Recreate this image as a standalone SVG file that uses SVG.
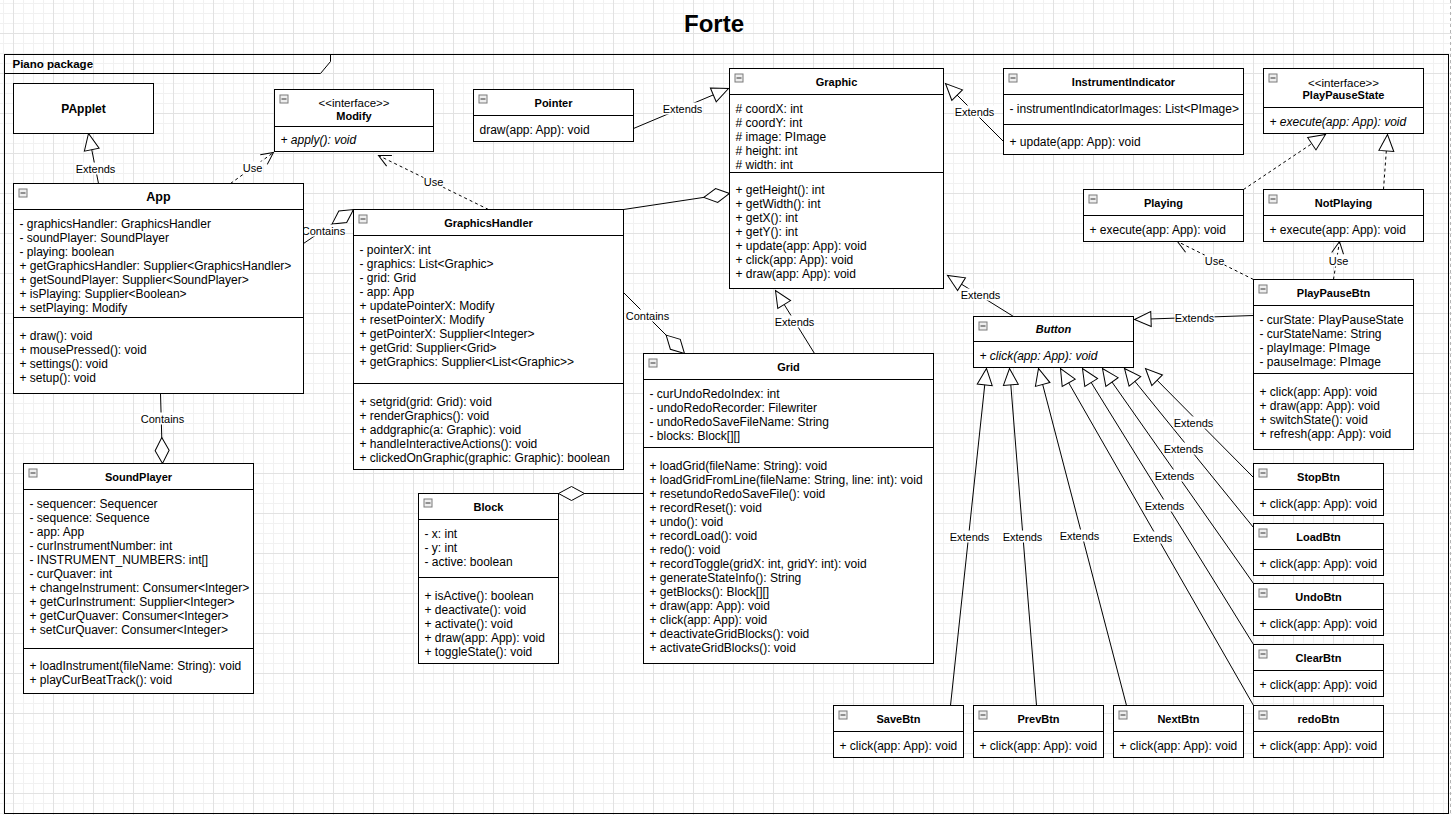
<svg xmlns="http://www.w3.org/2000/svg" xmlns:xlink="http://www.w3.org/1999/xlink" width="1452" height="815" viewBox="0 0 1452 815">
<style>
.bg{fill:url(#grid)}
.box{fill:#fff;stroke:#000;stroke-width:1}
.dv{stroke:#000;stroke-width:1}
text{font-family:"Liberation Sans",Arial,Helvetica,sans-serif;font-size:12px;fill:#000}
.h{font-weight:bold;font-size:11px;text-anchor:middle}
.hb{font-weight:bold;font-size:12px;text-anchor:middle}
.st{font-size:11.5px;text-anchor:middle}
.i{font-style:italic}
.ln{fill:none;stroke:#000;stroke-width:1}
.dash{stroke-dasharray:3 3}
.ext{marker-end:url(#tri)}
.use{marker-end:url(#open)}
.agg{marker-end:url(#dia)}
.lbl rect{fill:#fff}
.lbl text{font-size:11px;text-anchor:middle}
</style>
<defs>
<pattern id="grid" x="13" y="33" width="40" height="40" patternUnits="userSpaceOnUse">
<path d="M10.5,0V40M20.5,0V40M30.5,0V40M0,10.5H40M0,20.5H40M0,30.5H40" fill="none" stroke="#f1f1f1" stroke-width="1"/>
<path d="M0.5,0V40M0,0.5H40" fill="none" stroke="#e2e2e2" stroke-width="1"/>
</pattern>
<marker id="tri" markerUnits="userSpaceOnUse" markerWidth="20" markerHeight="18" refX="17" refY="8" orient="auto" overflow="visible">
<path d="M0.5,0.5L17,8L0.5,15.5Z" fill="#fff" stroke="#000" stroke-width="1"/>
</marker>
<marker id="open" markerUnits="userSpaceOnUse" markerWidth="14" markerHeight="14" refX="12" refY="6" orient="auto" overflow="visible">
<path d="M0,0L12,6L0,12" fill="none" stroke="#000" stroke-width="1"/>
</marker>
<marker id="dia" markerUnits="userSpaceOnUse" markerWidth="28" markerHeight="18" refX="26" refY="7" orient="auto" overflow="visible">
<path d="M0,7L13,0L26,7L13,14Z" fill="#fff" stroke="#000" stroke-width="1"/>
</marker>
<symbol id="mn" viewBox="0 0 9 9" width="9" height="9" overflow="visible">
<rect x="0.5" y="0.5" width="8" height="8" fill="#eeeeee" stroke="#7a7a7a" stroke-width="1"/>
<path d="M2,4.5H7" stroke="#333" stroke-width="1"/>
</symbol>
</defs>
<rect class="bg" x="0" y="0" width="1452" height="815"/>
<path d="M1450.5,0V815" stroke="#b5b5b5" stroke-width="1" stroke-dasharray="3 3"/>
<text x="714" y="32" style="font-size:24px;font-weight:bold;text-anchor:middle">Forte</text>

<g transform="translate(0.5,0.5)">
<g id="package">
<rect x="4" y="54" width="1444" height="759" fill="none" stroke="#000" stroke-width="1"/>
<path d="M4,73H320L330,61V54" fill="none" stroke="#000" stroke-width="1"/>
<text x="12" y="67" style="font-weight:bold;font-size:11.5px">Piano package</text>
</g>

<g id="connectors">
<path class="ln ext" d="M98,183L88,133"/>
<g class="lbl"><rect x="75" y="162" width="40" height="12"/><text x="95" y="172">Extends</text></g>
<path class="ln dash use" d="M230,183L273,152"/>
<g class="lbl"><rect x="242" y="161" width="20" height="12"/><text x="252" y="171">Use</text></g>
<path class="ln agg" d="M303,243L353,209"/>
<g class="lbl"><rect x="301" y="224" width="44" height="12"/><text x="323" y="234">Contains</text></g>
<path class="ln agg" d="M160,393L162,463"/>
<g class="lbl"><rect x="140" y="412" width="44" height="12"/><text x="162" y="422">Contains</text></g>
<path class="ln dash use" d="M488,209L378,155"/>
<g class="lbl"><rect x="423" y="175" width="20" height="12"/><text x="433" y="185">Use</text></g>
<path class="ln agg" d="M623,209L729,193"/>
<path class="ln agg" d="M623,292L684,353"/>
<g class="lbl"><rect x="625" y="309" width="44" height="12"/><text x="647" y="319">Contains</text></g>
<path class="ln ext" d="M633,128L728,88"/>
<g class="lbl"><rect x="662" y="102" width="40" height="12"/><text x="682" y="112">Extends</text></g>
<path class="ln ext" d="M814,353L775,290"/>
<g class="lbl"><rect x="774" y="315" width="40" height="12"/><text x="794" y="325">Extends</text></g>
<path class="ln ext" d="M1003,141L945,83"/>
<g class="lbl"><rect x="954" y="105" width="40" height="12"/><text x="974" y="115">Extends</text></g>
<path class="ln ext" d="M1013,316L947,275"/>
<g class="lbl"><rect x="960" y="288" width="40" height="12"/><text x="980" y="298">Extends</text></g>
<path class="ln agg" d="M643,493L558,493"/>
<path class="ln dash ext" d="M1243,189L1325,134"/>
<path class="ln dash ext" d="M1383,189L1387,134"/>
<path class="ln dash use" d="M1253,279L1177,241"/>
<g class="lbl"><rect x="1204" y="254" width="20" height="12"/><text x="1214" y="264">Use</text></g>
<path class="ln dash use" d="M1333,279L1339,241"/>
<g class="lbl"><rect x="1328" y="254" width="20" height="12"/><text x="1338" y="264">Use</text></g>
<path class="ln ext" d="M1253,315L1134,319"/>
<g class="lbl"><rect x="1174" y="311" width="40" height="12"/><text x="1194" y="321">Extends</text></g>
<path class="ln ext" d="M950,705L986,368"/>
<g class="lbl"><rect x="949" y="530" width="40" height="12"/><text x="969" y="540">Extends</text></g>
<path class="ln ext" d="M1036,705L1009,368"/>
<g class="lbl"><rect x="1002" y="530" width="40" height="12"/><text x="1022" y="540">Extends</text></g>
<path class="ln ext" d="M1126,705L1038,368"/>
<g class="lbl"><rect x="1059" y="529" width="40" height="12"/><text x="1079" y="539">Extends</text></g>
<path class="ln ext" d="M1253,705L1060,368"/>
<g class="lbl"><rect x="1132" y="531" width="40" height="12"/><text x="1152" y="541">Extends</text></g>
<path class="ln ext" d="M1253,644L1082,368"/>
<g class="lbl"><rect x="1144" y="499" width="40" height="12"/><text x="1164" y="509">Extends</text></g>
<path class="ln ext" d="M1253,583L1102,368"/>
<g class="lbl"><rect x="1154" y="469" width="40" height="12"/><text x="1174" y="479">Extends</text></g>
<path class="ln ext" d="M1253,527L1124,368"/>
<g class="lbl"><rect x="1163" y="442" width="40" height="12"/><text x="1183" y="452">Extends</text></g>
<path class="ln ext" d="M1253,477L1145,368"/>
<g class="lbl"><rect x="1173" y="416" width="40" height="12"/><text x="1193" y="426">Extends</text></g>
</g>

<g id="PApplet">
<rect class="box" x="13" y="83" width="140" height="50"/>
<text class="hb" x="83" y="112">PApplet</text>
</g>

<g id="Modify">
<rect class="box" x="274" y="89" width="159" height="62"/>
<path class="dv" d="M274,126H433"/>
<use xlink:href="#mn" href="#mn" x="279" y="94"/>
<text class="st" x="353.5" y="106">&lt;&lt;interface&gt;&gt;</text>
<text class="h" x="353.5" y="119">Modify</text>
<text class="i" x="280" y="143">+ apply(): void</text>
</g>

<g id="App">
<rect class="box" x="13" y="183" width="290" height="210"/>
<path class="dv" d="M13,209H303M13,317H303"/>
<use xlink:href="#mn" href="#mn" x="18" y="188"/>
<text class="hb" x="158" y="200" style="font-size:12.5px">App</text>
<text x="19" y="227">- graphicsHandler: GraphicsHandler</text>
<text x="19" y="241">- soundPlayer: SoundPlayer</text>
<text x="19" y="255">- playing: boolean</text>
<text x="19" y="269">+ getGraphicsHandler: Supplier&lt;GraphicsHandler&gt;</text>
<text x="19" y="283">+ getSoundPlayer: Supplier&lt;SoundPlayer&gt;</text>
<text x="19" y="297">+ isPlaying: Supplier&lt;Boolean&gt;</text>
<text x="19" y="311">+ setPlaying: Modify</text>
<text x="19" y="339">+ draw(): void</text>
<text x="19" y="353">+ mousePressed(): void</text>
<text x="19" y="367">+ settings(): void</text>
<text x="19" y="381">+ setup(): void</text>
</g>

<g id="GraphicsHandler">
<rect class="box" x="353" y="209" width="270" height="260"/>
<path class="dv" d="M353,235H623M353,383H623"/>
<use xlink:href="#mn" href="#mn" x="358" y="214"/>
<text class="h" x="488" y="226">GraphicsHandler</text>
<text x="359" y="253">- pointerX: int</text>
<text x="359" y="267">- graphics: List&lt;Graphic&gt;</text>
<text x="359" y="281">- grid: Grid</text>
<text x="359" y="295">- app: App</text>
<text x="359" y="309">+ updatePointerX: Modify</text>
<text x="359" y="323">+ resetPointerX: Modify</text>
<text x="359" y="337">+ getPointerX: Supplier&lt;Integer&gt;</text>
<text x="359" y="351">+ getGrid: Supplier&lt;Grid&gt;</text>
<text x="359" y="365">+ getGraphics: Supplier&lt;List&lt;Graphic&gt;&gt;</text>
<text x="359" y="405">+ setgrid(grid: Grid): void</text>
<text x="359" y="419">+ renderGraphics(): void</text>
<text x="359" y="433">+ addgraphic(a: Graphic): void</text>
<text x="359" y="447">+ handleInteractiveActions(): void</text>
<text x="359" y="461">+ clickedOnGraphic(graphic: Graphic): boolean</text>
</g>

<g id="Pointer">
<rect class="box" x="473" y="89" width="160" height="52"/>
<path class="dv" d="M473,115H633"/>
<use xlink:href="#mn" href="#mn" x="478" y="94"/>
<text class="h" x="553" y="106">Pointer</text>
<text x="479" y="133">draw(app: App): void</text>
</g>

<g id="Graphic">
<rect class="box" x="729" y="68" width="214" height="220"/>
<path class="dv" d="M729,94H943M729,172H943"/>
<use xlink:href="#mn" href="#mn" x="734" y="73"/>
<text class="h" x="836" y="85">Graphic</text>
<text x="735" y="112"># coordX: int</text>
<text x="735" y="126"># coordY: int</text>
<text x="735" y="140"># image: PImage</text>
<text x="735" y="154"># height: int</text>
<text x="735" y="168"># width: int</text>
<text x="735" y="193">+ getHeight(): int</text>
<text x="735" y="207">+ getWidth(): int</text>
<text x="735" y="221">+ getX(): int</text>
<text x="735" y="235">+ getY(): int</text>
<text x="735" y="249">+ update(app: App): void</text>
<text x="735" y="263">+ click(app: App): void</text>
<text x="735" y="277">+ draw(app: App): void</text>
</g>

<g id="InstrumentIndicator">
<rect class="box" x="1003" y="68" width="240" height="86"/>
<path class="dv" d="M1003,94H1243M1003,124H1243"/>
<use xlink:href="#mn" href="#mn" x="1008" y="73"/>
<text class="h" x="1123" y="85">InstrumentIndicator</text>
<text x="1009" y="112">- instrumentIndicatorImages: List&lt;PImage&gt;</text>
<text x="1009" y="145">+ update(app: App): void</text>
</g>

<g id="PlayPauseState">
<rect class="box" x="1263" y="68" width="160" height="65"/>
<path class="dv" d="M1263,107H1423"/>
<use xlink:href="#mn" href="#mn" x="1268" y="73"/>
<text class="st" x="1343" y="86">&lt;&lt;interface&gt;&gt;</text>
<text class="h" x="1343" y="98">PlayPauseState</text>
<text class="i" x="1269" y="125">+ execute(app: App): void</text>
</g>

<g id="Playing">
<rect class="box" x="1083" y="189" width="160" height="52"/>
<path class="dv" d="M1083,215H1243"/>
<use xlink:href="#mn" href="#mn" x="1088" y="194"/>
<text class="h" x="1163" y="206">Playing</text>
<text x="1089" y="233">+ execute(app: App): void</text>
</g>

<g id="NotPlaying">
<rect class="box" x="1263" y="189" width="160" height="52"/>
<path class="dv" d="M1263,215H1423"/>
<use xlink:href="#mn" href="#mn" x="1268" y="194"/>
<text class="h" x="1343" y="206">NotPlaying</text>
<text x="1269" y="233">+ execute(app: App): void</text>
</g>

<g id="PlayPauseBtn">
<rect class="box" x="1253" y="279" width="160" height="170"/>
<path class="dv" d="M1253,305H1413M1253,373H1413"/>
<use xlink:href="#mn" href="#mn" x="1258" y="284"/>
<text class="h" x="1333" y="296">PlayPauseBtn</text>
<text x="1259" y="323">- curState: PlayPauseState</text>
<text x="1259" y="337">- curStateName: String</text>
<text x="1259" y="351">- playImage: PImage</text>
<text x="1259" y="365">- pauseImage: PImage</text>
<text x="1259" y="395">+ click(app: App): void</text>
<text x="1259" y="409">+ draw(app: App): void</text>
<text x="1259" y="423">+ switchState(): void</text>
<text x="1259" y="437">+ refresh(app: App): void</text>
</g>

<g id="Button">
<rect class="box" x="973" y="316" width="160" height="51"/>
<path class="dv" d="M973,341H1133"/>
<use xlink:href="#mn" href="#mn" x="978" y="321"/>
<text class="h i" x="1053" y="332">Button</text>
<text class="i" x="979" y="359">+ click(app: App): void</text>
</g>

<g id="SoundPlayer">
<rect class="box" x="23" y="463" width="230" height="230"/>
<path class="dv" d="M23,489H253M23,648H253"/>
<use xlink:href="#mn" href="#mn" x="28" y="468"/>
<text class="h" x="138" y="480">SoundPlayer</text>
<text x="29" y="507">- sequencer: Sequencer</text>
<text x="29" y="521">- sequence: Sequence</text>
<text x="29" y="535">- app: App</text>
<text x="29" y="549">- curInstrumentNumber: int</text>
<text x="29" y="563">- INSTRUMENT_NUMBERS: int[]</text>
<text x="29" y="577">- curQuaver: int</text>
<text x="29" y="591">+ changeInstrument: Consumer&lt;Integer&gt;</text>
<text x="29" y="605">+ getCurInstrument: Supplier&lt;Integer&gt;</text>
<text x="29" y="619">+ getCurQuaver: Consumer&lt;Integer&gt;</text>
<text x="29" y="633">+ setCurQuaver: Consumer&lt;Integer&gt;</text>
<text x="29" y="669">+ loadInstrument(fileName: String): void</text>
<text x="29" y="683">+ playCurBeatTrack(): void</text>
</g>

<g id="Block">
<rect class="box" x="418" y="493" width="140" height="170"/>
<path class="dv" d="M418,519H558M418,577H558"/>
<use xlink:href="#mn" href="#mn" x="423" y="498"/>
<text class="h" x="488" y="510">Block</text>
<text x="424" y="537">- x: int</text>
<text x="424" y="551">- y: int</text>
<text x="424" y="565">- active: boolean</text>
<text x="424" y="599">+ isActive(): boolean</text>
<text x="424" y="613">+ deactivate(): void</text>
<text x="424" y="627">+ activate(): void</text>
<text x="424" y="641">+ draw(app: App): void</text>
<text x="424" y="655">+ toggleState(): void</text>
</g>

<g id="Grid">
<rect class="box" x="643" y="353" width="290" height="310"/>
<path class="dv" d="M643,379H933M643,447H933"/>
<use xlink:href="#mn" href="#mn" x="648" y="358"/>
<text class="h" x="788" y="370">Grid</text>
<text x="649" y="397">- curUndoRedoIndex: int</text>
<text x="649" y="411">- undoRedoRecorder: Filewriter</text>
<text x="649" y="425">- undoRedoSaveFileName: String</text>
<text x="649" y="439">- blocks: Block[][]</text>
<text x="649" y="469">+ loadGrid(fileName: String): void</text>
<text x="649" y="483">+ loadGridFromLine(fileName: String, line: int): void</text>
<text x="649" y="497">+ resetundoRedoSaveFile(): void</text>
<text x="649" y="511">+ recordReset(): void</text>
<text x="649" y="525">+ undo(): void</text>
<text x="649" y="539">+ recordLoad(): void</text>
<text x="649" y="553">+ redo(): void</text>
<text x="649" y="567">+ recordToggle(gridX: int, gridY: int): void</text>
<text x="649" y="581">+ generateStateInfo(): String</text>
<text x="649" y="595">+ getBlocks(): Block[][]</text>
<text x="649" y="609">+ draw(app: App): void</text>
<text x="649" y="623">+ click(app: App): void</text>
<text x="649" y="637">+ deactivateGridBlocks(): void</text>
<text x="649" y="651">+ activateGridBlocks(): void</text>
</g>

<g id="StopBtn">
<rect class="box" x="1253" y="463" width="130" height="52"/>
<path class="dv" d="M1253,489H1383"/>
<use xlink:href="#mn" href="#mn" x="1258" y="468"/>
<text class="h" x="1318" y="480">StopBtn</text>
<text x="1259" y="507">+ click(app: App): void</text>
</g>
<g id="LoadBtn">
<rect class="box" x="1253" y="523" width="130" height="52"/>
<path class="dv" d="M1253,549H1383"/>
<use xlink:href="#mn" href="#mn" x="1258" y="528"/>
<text class="h" x="1318" y="540">LoadBtn</text>
<text x="1259" y="567">+ click(app: App): void</text>
</g>
<g id="UndoBtn">
<rect class="box" x="1253" y="583" width="130" height="52"/>
<path class="dv" d="M1253,609H1383"/>
<use xlink:href="#mn" href="#mn" x="1258" y="588"/>
<text class="h" x="1318" y="600">UndoBtn</text>
<text x="1259" y="627">+ click(app: App): void</text>
</g>
<g id="ClearBtn">
<rect class="box" x="1253" y="644" width="130" height="52"/>
<path class="dv" d="M1253,670H1383"/>
<use xlink:href="#mn" href="#mn" x="1258" y="649"/>
<text class="h" x="1318" y="661">ClearBtn</text>
<text x="1259" y="688">+ click(app: App): void</text>
</g>
<g id="SaveBtn">
<rect class="box" x="833" y="705" width="130" height="52"/>
<path class="dv" d="M833,731H963"/>
<use xlink:href="#mn" href="#mn" x="838" y="710"/>
<text class="h" x="898" y="722">SaveBtn</text>
<text x="839" y="749">+ click(app: App): void</text>
</g>
<g id="PrevBtn">
<rect class="box" x="973" y="705" width="130" height="52"/>
<path class="dv" d="M973,731H1103"/>
<use xlink:href="#mn" href="#mn" x="978" y="710"/>
<text class="h" x="1038" y="722">PrevBtn</text>
<text x="979" y="749">+ click(app: App): void</text>
</g>
<g id="NextBtn">
<rect class="box" x="1113" y="705" width="130" height="52"/>
<path class="dv" d="M1113,731H1243"/>
<use xlink:href="#mn" href="#mn" x="1118" y="710"/>
<text class="h" x="1178" y="722">NextBtn</text>
<text x="1119" y="749">+ click(app: App): void</text>
</g>
<g id="redoBtn">
<rect class="box" x="1253" y="705" width="130" height="52"/>
<path class="dv" d="M1253,731H1383"/>
<use xlink:href="#mn" href="#mn" x="1258" y="710"/>
<text class="h" x="1318" y="722">redoBtn</text>
<text x="1259" y="749">+ click(app: App): void</text>
</g>
</g>
</svg>
